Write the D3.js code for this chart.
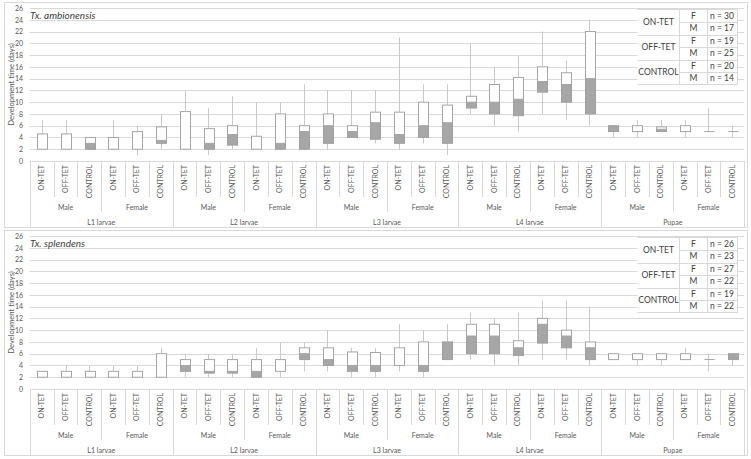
<!DOCTYPE html>
<html>
<head>
<meta charset="utf-8">
<script src="https://cdn.jsdelivr.net/npm/d3@7"></script>
<style>
html,body{margin:0;padding:0;background:#fff;}
svg{display:block;}
text{font-family:Lato,"Open Sans",sans-serif;}
</style>
</head>
<body>
<svg id="chart" width="751" height="459"></svg>
<script>
// ---------- data ----------
const stages = ["L1 larvae","L2 larvae","L3 larvae","L4 larvae","Pupae"];
const sexes = ["Male","Female"];
const treatments = ["ON-TET","OFF-TET","CONTROL"];
const yTicks = [0,2,4,6,8,10,12,14,16,18,20,22,24,26];

// Tx. ambionensis (order: stage > sex > treatment)
const ambTitle = "Tx. ambionensis";
const ambMin = [2,2,2, 2,1,2, 2,1,2, 2,2,2, 2,4,3, 2,3,1, 8,6,5, 8,7,6, 4,4,5, 4,5,4];
const ambQ1  = [2,2,2, 2,2,3, 2,2,2.7, 2,2,2, 3,4,3.7, 3,4,3, 9,8,7.7, 11.7,10,8, 5,5,5, 5,5,5];
const ambMed = [2,2,3, 2,2,3.5, 2,3,4.5, 2,3,5, 6,5,6.5, 4.5,6,6.5, 10,10,10.5, 13.5,13,14, 6,5,5.4, 5,5,5];
const ambQ3  = [4.6,4.6,4, 4,5,5.8, 8.4,5.5,6, 4.2,8,6, 8,6,8.3, 8.3,10,9.5, 11,13,14.2, 16,15,22, 6,6,5.8, 6,5,5];
const ambMax = [7,7,4, 7,6,8, 12,9,11, 10,10,13, 12,12,12, 21,13,13, 20,16,18, 22,17,24, 6,7,7, 7,9,6];
const ambLegendN = ["n = 30","n = 17","n = 19","n = 25","n = 20","n = 14"];

// Tx. splendens
const splTitle = "Tx. splendens";
const splMin = [2,2,2, 2,2,2, 2,2,2, 2,2,3, 3,2,2, 3,2,5, 5,4,4, 5,5,4, 5,4,4, 5,3,4];
const splQ1  = [2,2,2, 2,2,2, 3,2.7,2.7, 2,3,5, 4,3,3, 4,3,5, 6,6,5.7, 7.8,7,5, 5,5,5, 5,5,5];
const splMed = [2,2,2, 2,2,2, 4,3,3, 3,3,6, 5,4,4, 4,4,8, 9,9,7, 11,9,7, 5,5,5, 5,5,6];
const splQ3  = [3,3,3, 3,3,6, 5,5,5, 5,5,7, 7,6.3,6.2, 7,8,8, 11,11,8.2, 12,10,8, 6,6,6, 6,5,6];
const splMax = [3,4,4, 4,4,7, 6,6,6, 7,8,8, 10,7,7, 11,10,11, 13,12,13, 15,15,14, 6,6,6, 7,6,6];
const splLegendN = ["n = 26","n = 23","n = 27","n = 22","n = 19","n = 22"];

const legendSex = ["F","M"];

// ---------- drawing ----------
const svg = d3.select("#chart");
const GRID = "#d9d9d9", TXT = "#595959";

function panel(offY, title, mins, q1s, meds, q3s, maxs, legendN) {
  const g = svg.append("g").attr("transform", `translate(0,${offY})`);
  // frame
  g.append("rect").attr("x",4.5).attr("y",2.5).attr("width",743).attr("height",225)
    .attr("fill","#fff").attr("stroke",GRID).attr("stroke-width",1);

  const cats = [];
  stages.forEach(s => sexes.forEach(x => treatments.forEach(t => cats.push({stage:s, sex:x, trt:t}))));
  const x = d3.scaleBand().domain(d3.range(cats.length)).range([29.8, 744.2]).paddingInner(0).paddingOuter(0);
  const y = d3.scaleLinear().domain([0, 26]).range([161, 8]);

  // gridlines
  g.append("g").selectAll("line").data(yTicks).join("line")
    .attr("x1", 29.8).attr("x2", 744.2)
    .attr("y1", d => Math.round(y(d)) + 0.5).attr("y2", d => Math.round(y(d)) + 0.5)
    .attr("stroke", GRID).attr("stroke-width", 1);

  // y axis labels via d3 axis
  const yAxis = d3.axisLeft(y).tickValues(yTicks).tickSize(0).tickPadding(0);
  const ya = g.append("g").attr("transform","translate(23,0)").call(yAxis);
  ya.select(".domain").remove();
  ya.selectAll("text").attr("fill", TXT).style("font-size","7px").style("font-family","Lato, sans-serif");

  // y title
  g.append("text").attr("transform", `translate(14,${y(13)}) rotate(-90)`)
    .attr("text-anchor","middle").attr("fill", TXT).style("font-size","7.6px")
    .text("Development time (days)");

  // category separators
  const axisY = y(0);
  const bounds = d3.range(cats.length + 1);
  g.append("g").selectAll("line").data(bounds).join("line")
    .attr("x1", i => Math.round(i === cats.length ? x.range()[1] : x(i)) + 0.5)
    .attr("x2", i => Math.round(i === cats.length ? x.range()[1] : x(i)) + 0.5)
    .attr("y1", axisY)
    .attr("y2", i => i % 6 === 0 ? 227 : (i % 3 === 0 ? axisY + 51 : axisY + 36))
    .attr("stroke", GRID).attr("stroke-width", 1);

  // treatment labels
  g.append("g").selectAll("text").data(cats).join("text")
    .attr("transform", (d,i) => `translate(${x(i) + x.bandwidth()/2 + 2.5},${axisY + 4}) rotate(-90)`)
    .attr("text-anchor","end").attr("fill", TXT).style("font-size","7px")
    .text(d => d.trt);
  // sex labels
  const sexGroups = d3.range(stages.length * sexes.length);
  g.append("g").selectAll("text").data(sexGroups).join("text")
    .attr("x", k => x(k*3) + x.bandwidth()*1.5).attr("y", axisY + 48.5)
    .attr("text-anchor","middle").attr("fill", TXT).style("font-size","7px")
    .text(k => sexes[k % 2]);
  // stage labels
  g.append("g").selectAll("text").data(stages).join("text")
    .attr("x", (s,k) => x(k*6) + x.bandwidth()*3).attr("y", axisY + 63.5)
    .attr("text-anchor","middle").attr("fill", TXT).style("font-size","7px")
    .text(s => s);

  // boxes
  const bw = x.bandwidth() * 0.4;
  const boxes = g.append("g");
  cats.forEach((c, i) => {
    const cx = x(i) + x.bandwidth()/2;
    const x0 = Math.round(cx - bw/2) + 0.5, x1 = x0 + Math.round(bw);
    const xm = Math.round(cx) + 0.5;
    // whiskers
    if (maxs[i] > q3s[i]) boxes.append("line").attr("x1", xm).attr("x2", xm)
      .attr("y1", y(q3s[i])).attr("y2", y(maxs[i])).attr("stroke","#c9c9c9").attr("stroke-width",1);
    if (mins[i] < q1s[i]) boxes.append("line").attr("x1", xm).attr("x2", xm)
      .attr("y1", y(q1s[i])).attr("y2", y(mins[i])).attr("stroke","#c9c9c9").attr("stroke-width",1);
    // lower part (gray)
    if (meds[i] > q1s[i]) boxes.append("rect").attr("x", x0).attr("width", x1 - x0)
      .attr("y", y(meds[i])).attr("height", y(q1s[i]) - y(meds[i]))
      .attr("fill","#a6a6a6").attr("stroke","#a0a0a0").attr("stroke-width",1);
    // upper part (white)
    if (q3s[i] > meds[i]) boxes.append("rect").attr("x", x0).attr("width", x1 - x0)
      .attr("y", y(q3s[i])).attr("height", y(meds[i]) - y(q3s[i]))
      .attr("fill","#ffffff").attr("stroke","#a6a6a6").attr("stroke-width",1);
    if (q3s[i] === q1s[i]) boxes.append("line").attr("x1", x0).attr("x2", x1)
      .attr("y1", y(q1s[i])).attr("y2", y(q1s[i])).attr("stroke","#a6a6a6").attr("stroke-width",1);
  });

  // title
  g.append("text").attr("x", 30).attr("y", 19).attr("fill","#404040")
    .style("font-size","10px").style("font-style","italic").text(title);

  // legend table
  const lx = [637.5, 679.5, 707.5, 737.5];
  const ly0 = 9.5, rh = 12.5;
  const lg = g.append("g");
  lg.append("rect").attr("x", lx[0]).attr("y", ly0).attr("width", lx[3]-lx[0]).attr("height", rh*6)
    .attr("fill","#fff").attr("stroke","none");
  lg.append("line").attr("x1", lx[0]).attr("x2", lx[3]).attr("y1", ly0).attr("y2", ly0).attr("stroke", GRID);
  lg.append("line").attr("x1", lx[0]).attr("x2", lx[3]).attr("y1", ly0 + rh*6).attr("y2", ly0 + rh*6).attr("stroke", GRID);
  lg.selectAll("line.v").data([lx[1], lx[2], lx[3]]).join("line").attr("class","v")
    .attr("x1", d => d).attr("x2", d => d).attr("y1", ly0).attr("y2", ly0 + rh*6).attr("stroke", GRID);
  d3.range(1,6).forEach(r => {
    lg.append("line").attr("x1", r % 2 === 0 ? lx[0] : lx[1]).attr("x2", lx[3])
      .attr("y1", Math.round(ly0 + r*rh) + 0.5).attr("y2", Math.round(ly0 + r*rh) + 0.5).attr("stroke", GRID);
  });
  treatments.forEach((t, k) => {
    lg.append("text").attr("x", (lx[0]+lx[1])/2).attr("y", ly0 + rh*(2*k+1) + 3.2)
      .attr("text-anchor","middle").attr("fill","#404040").style("font-size","8.5px").text(t);
  });
  legendN.forEach((n, r) => {
    lg.append("text").attr("x", (lx[1]+lx[2])/2).attr("y", ly0 + rh*r + rh/2 + 3.2)
      .attr("text-anchor","middle").attr("fill","#404040").style("font-size","8.5px").text(legendSex[r % 2]);
    lg.append("text").attr("x", lx[2] + 2.5).attr("y", ly0 + rh*r + rh/2 + 3.2)
      .attr("fill","#404040").style("font-size","8.5px").text(n);
  });
}

panel(0, ambTitle, ambMin, ambQ1, ambMed, ambQ3, ambMax, ambLegendN);
panel(228, splTitle, splMin, splQ1, splMed, splQ3, splMax, splLegendN);
</script>
</body>
</html>
